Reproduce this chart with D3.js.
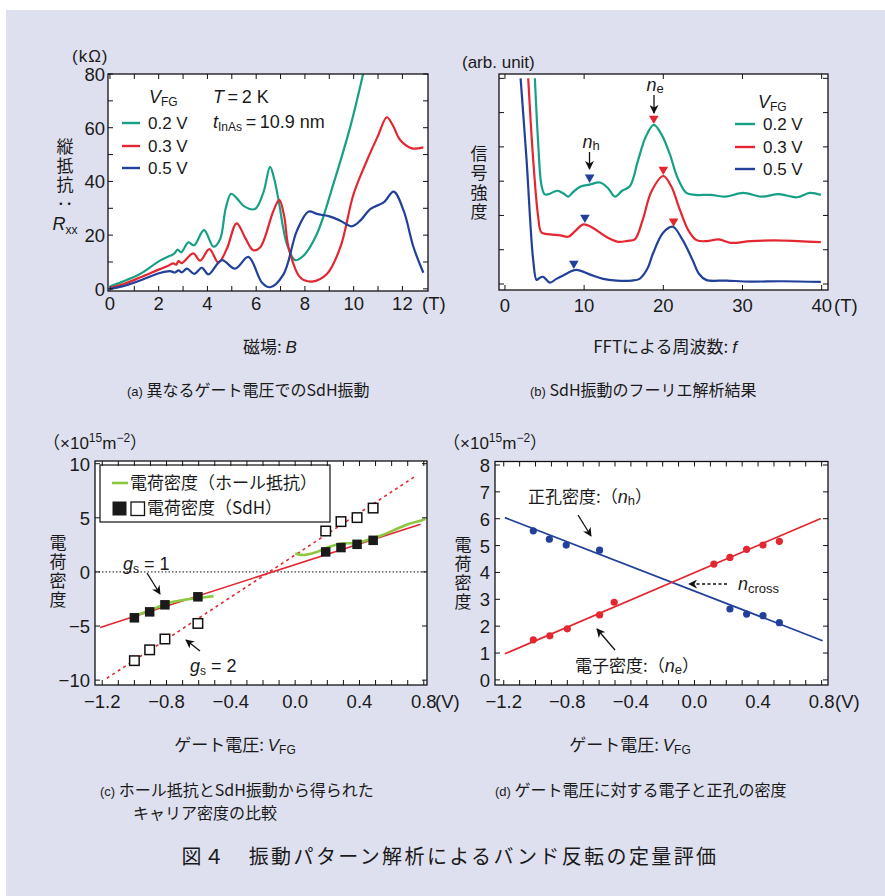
<!DOCTYPE html>
<html><head><meta charset="utf-8">
<script src="https://cdn.jsdelivr.net/npm/d3@7"></script>
<style>
body{margin:0;background:#fff}
svg text{font-family:"Liberation Sans",Arial,sans-serif;fill:#1a1a1a}
svg text.jp{font-family:"Noto Sans CJK JP","Noto Sans CJK SC",sans-serif}
svg text.vert{writing-mode:vertical-rl}
</style></head><body>
<script>
// ---------- (a) longitudinal resistance R_xx [kΩ] vs field B [T] ----------
const rxx02 = [[0.0,0.9],[0.5,2.6],[1.23,5.5],[2.05,10.5],[2.46,12.3],[2.62,13.0],[2.78,14.6],[2.92,13.6],[3.22,17.3],[3.45,16.2],[3.86,21.9],[4.25,15.7],[4.52,18.5],[4.75,30.0],[4.97,35.4],[5.2,33.8],[5.5,30.8],[5.95,29.7],[6.3,36.0],[6.57,45.4],[6.75,40.5],[6.91,33.5],[7.26,16.7],[7.6,10.7],[7.94,12.3],[8.49,20.4],[9.17,39.1],[9.86,60.3],[10.4,80.5]];
const rxx03 = [[0.0,0.3],[0.5,1.6],[1.23,4.2],[2.05,7.35],[2.39,8.6],[2.6,9.5],[2.72,9.0],[2.81,10.3],[2.94,9.6],[3.42,13.2],[3.7,10.5],[4.08,14.8],[4.45,9.8],[4.79,14.8],[5.2,24.4],[5.55,19.0],[5.88,14.4],[6.16,15.4],[6.71,29.1],[6.95,33.1],[7.15,27.0],[7.33,15.4],[7.81,4.2],[8.29,2.7],[8.9,5.5],[9.45,15.4],[10.0,35.4],[10.55,47.9],[11.0,57.0],[11.36,63.9],[11.6,61.0],[11.91,55.4],[12.39,52.3],[12.86,52.7]];
const rxx05 = [[0.0,0.0],[0.5,0.9],[1.23,3.1],[2.05,5.9],[2.46,6.6],[2.67,6.1],[2.81,6.9],[2.94,6.1],[3.16,7.5],[3.46,5.6],[3.77,7.85],[4.04,5.4],[4.59,10.7],[5.13,7.5],[5.68,11.9],[6.24,2.3],[6.57,0.6],[7.12,5.4],[7.67,21.6],[8.15,28.8],[8.49,27.9],[9.04,26.9],[9.45,25.4],[9.93,23.3],[10.27,25.4],[10.68,29.7],[11.23,32.2],[11.64,36.2],[12.05,29.1],[12.46,15.4],[12.86,6.0]];
const fieldTicks = [0,2,4,6,8,10,12];
const rxxTicks = [0,20,40,60,80];

// ---------- (b) FFT amplitude [arb.] vs frequency f [T] ----------
const fft02 = [[3.78,6.0],[4.2,4.1],[4.6,2.9],[5.0,2.62],[5.5,2.62],[6.6,2.72],[7.4,2.64],[8.0,2.55],[8.6,2.68],[9.5,2.84],[10.7,2.9],[12.0,2.96],[13.0,2.8],[13.9,2.55],[14.8,2.72],[15.8,2.86],[16.8,3.6],[17.8,4.3],[18.8,4.64],[19.8,4.35],[20.8,3.8],[21.8,3.1],[22.9,2.66],[24,2.6],[26,2.6],[27.9,2.55],[30.1,2.66],[32.4,2.55],[34.6,2.62],[36.9,2.53],[38.5,2.66],[39.9,2.6]];
const fft03 = [[2.94,6.0],[3.57,3.62],[4.2,1.96],[4.62,1.5],[5.7,1.45],[7,1.42],[8.0,1.38],[8.9,1.55],[9.9,1.74],[10.8,1.68],[11.8,1.53],[13,1.35],[14.3,1.23],[15.5,1.26],[16.4,1.3],[17.4,1.87],[18.5,2.7],[20.0,3.15],[21.0,2.85],[22.1,2.16],[23.2,1.55],[24.2,1.28],[25.5,1.25],[27,1.3],[28.5,1.2],[31,1.25],[34,1.27],[37,1.25],[39.9,1.22]];
const fft05 = [[1.98,6.0],[2.73,3.62],[3.57,0.7],[4.0,0.12],[4.4,0.18],[4.84,0.21],[5.67,0.04],[6.5,0.15],[7.35,0.25],[9.0,0.41],[10.7,0.28],[12.4,0.15],[14.1,0.1],[16,0.1],[17,0.15],[18.0,0.45],[18.7,0.89],[20,1.5],[21.2,1.67],[22.4,1.3],[23.7,0.7],[24.5,0.3],[25.4,0.12],[28,0.1],[31,0.07],[35,0.08],[39.9,0.06]];
const holePeaks = [[10.7,3.11],[10.1,1.94],[8.7,0.6]];
const elecPeaks = [[18.8,4.83],[20.0,3.34],[21.3,1.83]];
const freqTicks = [0,10,20,30,40];
const ampTicks = [0,1,2,3,4,5,6];

// ---------- (c) carrier density [1e15 m^-2] vs gate voltage [V] ----------
const sdhVolt = [-1.0,-0.905,-0.81,-0.605,0.19,0.285,0.385,0.485];
const sdhG1 = [-4.24,-3.69,-3.04,-2.3,1.85,2.25,2.55,2.92];
const sdhG2 = [-8.2,-7.2,-6.2,-4.76,3.78,4.65,5.02,5.9];
const hallNeg = [[-1.016,-4.15],[-0.9,-3.55],[-0.8,-2.92],[-0.69,-2.58],[-0.6,-2.42],[-0.508,-2.24]];
const hallPos = [[0.0,1.7],[0.05,1.56],[0.13,1.82],[0.21,2.3],[0.29,2.62],[0.38,2.68],[0.46,2.99],[0.54,3.39],[0.62,3.9],[0.71,4.46],[0.78,4.72],[0.81,4.9]];
const fitG1 = {slope:4.78, v0:-0.14, from:-1.213, to:0.78};
const fitG2 = {slope:9.73, v0:-0.161, from:-1.171, to:0.746};
const voltTicks = [-1.2,-0.8,-0.4,0.0,0.4,0.8];
const densTicksC = [-10,-5,0,5,10];

// ---------- (d) electron / hole densities ----------
const holeVolt = [-1.014,-0.913,-0.807,-0.597,0.223,0.328,0.431,0.534];
const holeDens = [5.55,5.24,5.02,4.83,2.64,2.45,2.39,2.13];
const elecVolt = [-1.014,-0.91,-0.80,-0.597,-0.505,0.122,0.223,0.328,0.431,0.534];
const elecDens = [1.49,1.64,1.9,2.42,2.89,4.31,4.56,4.86,5.02,5.16];
const holeFit = [[-1.193,6.04],[0.806,1.46]];
const elecFit = [[-1.193,0.97],[0.795,6.01]];
const densTicksD = [0,1,2,3,4,5,6,7,8];

const TEAL = "#17a085", RED = "#e3262f", BLUE = "#21409a", LIME = "#8dc63f";
const TICK_FONT = 18.5;

const svg = d3.select("body").append("svg").attr("width",885).attr("height",896);
svg.append("rect").attr("x",6).attr("y",10).attr("width",879).attr("height",886).attr("fill","#dfe0ef");

const defs = svg.append("defs");
defs.append("marker").attr("id","ah").attr("viewBox","0 0 10 10").attr("refX",9).attr("refY",5)
  .attr("markerWidth",9).attr("markerHeight",9).attr("orient","auto-start-reverse").attr("markerUnits","userSpaceOnUse")
  .append("path").attr("d","M0,0 L10,5 L0,10 L3,5 z").attr("fill","#111");

function panel(id, x, y){
  const [x0,x1] = x.range(), [y0,y1] = y.range();
  const g = svg.append("g");
  g.append("rect").attr("x",x0).attr("y",y1).attr("width",x1-x0).attr("height",y0-y1).attr("fill","#fff");
  defs.append("clipPath").attr("id",id).append("rect").attr("x",x0).attr("y",y1).attr("width",x1-x0).attr("height",y0-y1);
  const body = g.append("g").attr("clip-path",`url(#${id})`);
  return {g, body, x0, x1, y0, y1, xs:x, ys:y};
}
function finish(p, xt, yt, len){
  const t = p.g.append("g").attr("stroke","#111").attr("stroke-width",1);
  xt.forEach(v=>{ const px = p.xs(v);
    t.append("line").attr("x1",px).attr("x2",px).attr("y1",p.y0).attr("y2",p.y0-len);
    t.append("line").attr("x1",px).attr("x2",px).attr("y1",p.y1).attr("y2",p.y1+len); });
  yt.forEach(v=>{ const py = p.ys(v);
    t.append("line").attr("y1",py).attr("y2",py).attr("x1",p.x0).attr("x2",p.x0+len);
    t.append("line").attr("y1",py).attr("y2",py).attr("x1",p.x1).attr("x2",p.x1-len); });
  p.g.append("rect").attr("x",p.x0).attr("y",p.y1).attr("width",p.x1-p.x0).attr("height",p.y0-p.y1)
    .attr("fill","none").attr("stroke","#111").attr("stroke-width",1.3);
}
function txt(x,y,s,o={}){
  const t = svg.append("text").attr("x",x).attr("y",y).attr("font-size",o.size||18)
    .attr("text-anchor",o.anchor||"start");
  if(o.jp) t.attr("class","jp");
  if(o.italic) t.attr("font-style","italic");
  if(s!==null) t.text(s);
  return t;
}
function span(t,s,o={}){
  const sp = t.append("tspan").text(s);
  if(o.size) sp.attr("font-size",o.size);
  if(o.dy) sp.attr("dy",o.dy);
  if(o.italic) sp.attr("font-style","italic");
  if(o.jp) sp.attr("font-family",'"Noto Sans CJK JP",sans-serif');
  return sp;
}
// vertical axis title written top-to-bottom
function vtitle(s, x, top, size, gap){
  return svg.append("text").attr("class","jp vert").attr("x",x).attr("y",top)
    .attr("font-size",size).attr("letter-spacing",gap).text(s);
}
function arrow(x1,y1,x2,y2,dash){
  const l = svg.append("line").attr("x1",x1).attr("y1",y1).attr("x2",x2).attr("y2",y2)
    .attr("stroke","#111").attr("stroke-width",1.3).attr("marker-end","url(#ah)");
  if(dash) l.attr("stroke-dasharray",dash);
}
// density unit label (×10^15 m^-2)
function unitLabel(x, y){
  const u = txt(x, y, null, {size:17});
  span(u,"（",{jp:true}); span(u,"×10"); span(u,"15",{size:12,dy:-7}); span(u,"m",{dy:7});
  span(u,"−2",{size:12,dy:-7}); span(u,"）",{jp:true,dy:7});
}
const curve = d3.line().curve(d3.curveCatmullRom.alpha(0.5));
const fmtV = v => d3.format(".1f")(v).replace("-","−");

// ================= (a) =================
{
  const x = d3.scaleLinear().domain([-0.08,13.05]).range([108,428]);
  const y = d3.scaleLinear().domain([-0.8,80]).range([291,74]);
  const p = panel("clipA", x, y);
  const ln = curve.x(d=>x(d[0])).y(d=>y(d[1]));
  [[rxx02,TEAL],[rxx03,RED],[rxx05,BLUE]].forEach(([d,c])=>
    p.body.append("path").attr("d",ln(d)).attr("fill","none").attr("stroke",c).attr("stroke-width",2.2));
  finish(p, d3.range(0,13,1), d3.range(0,81,10), 5);
  fieldTicks.forEach(v=> txt(x(v), 310, String(v), {anchor:"middle", size:TICK_FONT}));
  rxxTicks.forEach(v=> txt(105, y(v)+7, String(v), {anchor:"end", size:TICK_FONT}));
  txt(422, 310, "(T)", {size:TICK_FONT});
  txt(72, 62, "(kΩ)", {size:17}).attr("letter-spacing",1);
  // legend
  const vt = txt(149, 103, null, {size:18}); span(vt,"V",{italic:true}); span(vt,"FG",{size:12,dy:3});
  [["0.2 V",TEAL,123],["0.3 V",RED,146],["0.5 V",BLUE,168]].forEach(([s,c,yy])=>{
    svg.append("line").attr("x1",122).attr("x2",140).attr("y1",yy).attr("y2",yy).attr("stroke",c).attr("stroke-width",2.4);
    txt(148, yy+6, s, {size:17});
  });
  const tt = txt(213, 103, null, {size:18}); span(tt,"T",{italic:true}); span(tt,"\u2009=\u20092 K");
  const ti = txt(213, 128, null, {size:18}); span(ti,"t",{italic:true}); span(ti,"InAs",{size:12,dy:3}); span(ti,"\u2009=\u200910.9 nm",{dy:-3});
  vtitle("縦抵抗：", 65, 138, 17, 2);
  const rl = txt(65, 230, null, {anchor:"middle", size:18}); span(rl,"R",{italic:true}); span(rl,"xx",{size:12,dy:4});
  const xl = txt(270, 353, null, {anchor:"middle", size:17}); span(xl,"磁場: ",{jp:true}); span(xl,"B",{italic:true});
  const ca = txt(127, 396, null, {size:16}); span(ca,"(a)",{size:13}); span(ca,"  異なるゲート電圧でのSdH振動",{jp:true});
}

// ================= (b) =================
{
  const x = d3.scaleLinear().domain([-0.75,40.8]).range([499,828]);
  const y = d3.scaleLinear().domain([-0.175,6.126]).range([290,74]);
  const p = panel("clipB", x, y);
  const ln = curve.x(d=>x(d[0])).y(d=>y(d[1]));
  [[fft02,TEAL],[fft03,RED],[fft05,BLUE]].forEach(([d,c])=>
    p.body.append("path").attr("d",ln(d)).attr("fill","none").attr("stroke",c).attr("stroke-width",2.2));
  const tri = d3.symbol().type(d3.symbolTriangle).size(40);
  [[holePeaks,BLUE],[elecPeaks,RED]].forEach(([d,c])=>
    p.body.selectAll(null).data(d).join("path").attr("d",tri)
      .attr("transform",q=>`translate(${x(q[0])},${y(q[1])}) rotate(180)`).attr("fill",c));
  finish(p, freqTicks, ampTicks, 5);
  freqTicks.forEach(v=> txt(x(v), 312, String(v), {anchor:"middle", size:TICK_FONT}));
  txt(834, 312, "(T)", {size:TICK_FONT});
  txt(462, 68, "(arb. unit)", {size:17});
  const vt = txt(758, 108, null, {size:18}); span(vt,"V",{italic:true}); span(vt,"FG",{size:12,dy:3});
  [["0.2 V",TEAL,124],["0.3 V",RED,147],["0.5 V",BLUE,169]].forEach(([s,c,yy])=>{
    svg.append("line").attr("x1",735).attr("x2",755).attr("y1",yy).attr("y2",yy).attr("stroke",c).attr("stroke-width",2.4);
    txt(763, yy+6, s, {size:17});
  });
  const nh = txt(591, 148, null, {anchor:"middle", size:18}); span(nh,"n",{italic:true}); span(nh,"h",{size:13,dy:2});
  arrow(589.5, 152, 589.5, 169);
  const ne = txt(655, 91, null, {anchor:"middle", size:18}); span(ne,"n",{italic:true}); span(ne,"e",{size:13,dy:2});
  arrow(654, 95, 654, 113);
  vtitle("信号強度", 479, 145, 17, 2.3);
  const xl = txt(665, 353, null, {anchor:"middle", size:17}); span(xl,"FFTによる周波数: ",{jp:true}); span(xl,"f",{italic:true});
  const cb = txt(530, 396, null, {size:16}); span(cb,"(b)",{size:13}); span(cb,"  SdH振動のフーリエ解析結果",{jp:true});
}

// ================= (c) =================
{
  const x = d3.scaleLinear().domain([-1.245,0.82]).range([95,427]);
  const y = d3.scaleLinear().domain([-10.45,10.25]).range([685,461]);
  const p = panel("clipC", x, y);
  p.body.append("line").attr("x1",p.x0).attr("x2",p.x1).attr("y1",y(0)).attr("y2",y(0))
    .attr("stroke","#111").attr("stroke-width",1).attr("stroke-dasharray","1.5,2");
  const fitLine = (f)=> [[f.from, f.slope*(f.from-f.v0)],[f.to, f.slope*(f.to-f.v0)]];
  const st = d3.line().x(d=>x(d[0])).y(d=>y(d[1]));
  p.body.append("path").attr("d",st(fitLine(fitG1))).attr("stroke",RED).attr("stroke-width",1.6).attr("fill","none");
  p.body.append("path").attr("d",st(fitLine(fitG2))).attr("stroke",RED).attr("stroke-width",1.6).attr("fill","none").attr("stroke-dasharray","3,3.5");
  const ln = curve.x(d=>x(d[0])).y(d=>y(d[1]));
  [hallNeg,hallPos].forEach(d=> p.body.append("path").attr("d",ln(d)).attr("fill","none").attr("stroke",LIME).attr("stroke-width",2.6));
  const s = 9.5;
  p.body.selectAll(null).data(sdhVolt).join("rect").attr("x",(v)=>x(v)-s/2).attr("y",(v,i)=>y(sdhG2[i])-s/2)
    .attr("width",s).attr("height",s).attr("fill","#fff").attr("stroke","#111").attr("stroke-width",1.5);
  p.body.selectAll(null).data(sdhVolt).join("rect").attr("x",(v)=>x(v)-s/2).attr("y",(v,i)=>y(sdhG1[i])-s/2)
    .attr("width",s).attr("height",s).attr("fill","#1a1a1a");
  // legend box
  p.g.append("rect").attr("x",100).attr("y",465).attr("width",230).attr("height",57).attr("fill","#fff").attr("stroke","#111").attr("stroke-width",1.2);
  finish(p, d3.range(-12,9,1).map(v=>v/10), densTicksC, 5);
  p.g.append("line").attr("x1",112).attr("x2",128).attr("y1",483).attr("y2",483).attr("stroke",LIME).attr("stroke-width",2.6);
  txt(130, 489, "電荷密度（ホール抵抗）", {jp:true, size:17});
  p.g.append("rect").attr("x",112.5).attr("y",501.5).attr("width",14).attr("height",14).attr("fill","#1a1a1a");
  p.g.append("rect").attr("x",131).attr("y",502).attr("width",13.5).attr("height",13.5).attr("fill","#fff").attr("stroke","#111").attr("stroke-width",1.3);
  txt(147, 514, "電荷密度（SdH）", {jp:true, size:17});
  voltTicks.forEach(v=> txt(x(v), 708, fmtV(v), {anchor:"middle", size:TICK_FONT}));
  densTicksC.forEach(v=> txt(90, y(v)+7, String(v).replace("-","−"), {anchor:"end", size:TICK_FONT}));
  txt(435, 708, "(V)", {size:TICK_FONT});
  unitLabel(43, 449);
  const g1 = txt(123, 570, null, {size:18}); span(g1,"g",{italic:true}); span(g1,"s",{size:12,dy:3}); span(g1," = 1",{dy:-3});
  arrow(147, 573, 160, 594);
  const g2 = txt(190, 672, null, {size:18}); span(g2,"g",{italic:true}); span(g2,"s",{size:12,dy:3}); span(g2," = 2",{dy:-3});
  arrow(200, 651, 186, 640);
  vtitle("電荷密度", 58, 534, 17, 2);
  const xl = txt(235, 751, null, {anchor:"middle", size:17}); span(xl,"ゲート電圧: ",{jp:true}); span(xl,"V",{italic:true}); span(xl,"FG",{size:12,dy:3});
  const cc = txt(100, 796, null, {size:16}); span(cc,"(c)",{size:13}); span(cc,"  ホール抵抗とSdH振動から得られた",{jp:true});
  txt(133, 819, "キャリア密度の比較", {jp:true, size:16});
}

// ================= (d) =================
{
  const x = d3.scaleLinear().domain([-1.255,0.84]).range([495,828]);
  const y = d3.scaleLinear().domain([-0.19,8.13]).range([685,461.5]);
  const p = panel("clipD", x, y);
  const st = d3.line().x(d=>x(d[0])).y(d=>y(d[1]));
  p.body.append("path").attr("d",st(holeFit)).attr("stroke",BLUE).attr("stroke-width",1.7).attr("fill","none");
  p.body.append("path").attr("d",st(elecFit)).attr("stroke",RED).attr("stroke-width",1.7).attr("fill","none");
  p.body.selectAll(null).data(holeVolt).join("circle").attr("cx",v=>x(v)).attr("cy",(v,i)=>y(holeDens[i])).attr("r",3.6).attr("fill",BLUE);
  p.body.selectAll(null).data(elecVolt).join("circle").attr("cx",v=>x(v)).attr("cy",(v,i)=>y(elecDens[i])).attr("r",3.6).attr("fill",RED);
  finish(p, d3.range(-12,9,1).map(v=>v/10), densTicksD, 5);
  voltTicks.forEach(v=> txt(x(v), 708, fmtV(v), {anchor:"middle", size:TICK_FONT}));
  densTicksD.forEach(v=> txt(490, y(v)+7, String(v), {anchor:"end", size:TICK_FONT}));
  txt(835, 708, "(V)", {size:TICK_FONT});
  unitLabel(443, 449);
  const h = txt(528, 503, null, {size:17}); span(h,"正孔密度:（",{jp:true}); span(h,"n",{italic:true,size:18}); span(h,"h",{size:13,dy:2}); span(h,"）",{jp:true,dy:-2});
  arrow(578, 515, 591, 536);
  const e = txt(575, 672, null, {size:17}); span(e,"電子密度:（",{jp:true}); span(e,"n",{italic:true,size:18}); span(e,"e",{size:13,dy:2}); span(e,"）",{jp:true,dy:-2});
  arrow(615, 650, 597, 629);
  const nc = txt(738, 590, null, {size:18}); span(nc,"n",{italic:true}); span(nc,"cross",{size:13,dy:3});
  arrow(727, 584, 689, 584, "3,2.5");
  vtitle("電荷密度", 463, 536, 17, 2);
  const xl = txt(630, 751, null, {anchor:"middle", size:17}); span(xl,"ゲート電圧: ",{jp:true}); span(xl,"V",{italic:true}); span(xl,"FG",{size:12,dy:3});
  const cd = txt(495, 796, null, {size:16}); span(cd,"(d)",{size:13}); span(cd,"  ゲート電圧に対する電子と正孔の密度",{jp:true});
}

// figure title
txt(450, 864, "図４　振動パターン解析によるバンド反転の定量評価", {jp:true, size:20, anchor:"middle"}).attr("letter-spacing",2.4);
</script>
</body></html>
